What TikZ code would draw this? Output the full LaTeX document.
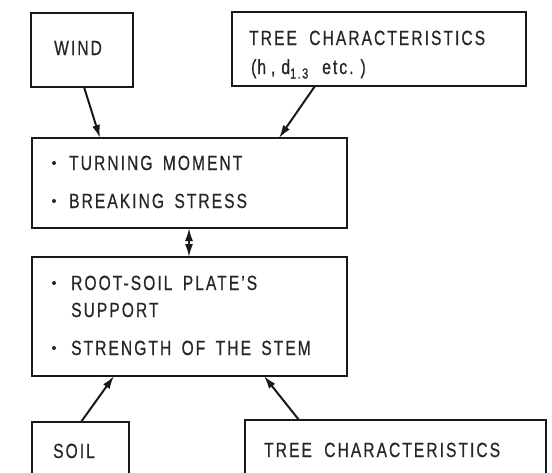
\documentclass[tikz,border=0pt]{standalone}
\usepackage{fontspec}
\setmainfont{Liberation Sans}[FakeStretch=0.76, LetterSpace=10, FakeBold=0.6]
\usetikzlibrary{arrows.meta}
\tikzset{
  box/.style={draw=black!90, line width=2.3pt, anchor=north west, inner sep=0pt, outer sep=0pt},
  txt/.style={anchor=base west, inner sep=0pt, text=black!85, font=\fontsize{20.5}{20.5}\selectfont},
  arr/.style={line width=2pt, draw=black!90, -{Latex[length=13pt,width=8pt]}},
  darr/.style={line width=2pt, draw=black!90, {Latex[length=13pt,width=8pt]}-{Latex[length=13pt,width=8pt]}},
  dot/.style={circle, fill=black!85, inner sep=0pt, minimum size=4pt}
}
\begin{document}
\begin{tikzpicture}[x=1pt,y=-1pt]
\useasboundingbox (0,0) rectangle (552,472);
\clip (0,0) rectangle (552,472);
\fill[white] (0,0) rectangle (552,472);
% boxes
\node[box, minimum width=102pt, minimum height=74pt] (wind) at (31,13) {};
\node[box, minimum width=294pt, minimum height=74pt] (treetop) at (232,12) {};
\node[box, minimum width=315pt, minimum height=90pt] (load) at (32,138) {};
\node[box, minimum width=315pt, minimum height=119pt] (resist) at (32,257) {};
\node[box, minimum width=97pt, minimum height=80pt] (soil) at (32,422) {};
\node[box, minimum width=301pt, minimum height=80pt] (treebot) at (245,420) {};
% texts
\node[txt] (twind) at (54,55) {WIND};
\node[txt] (ttree1) at (249,45) {TREE\hspace{6pt} CHARACTERISTICS};
\node[txt] (ttree2) at (251,74) {(\hspace{1pt}h\hspace{5pt},\hspace{6pt}d\raisebox{-4.5pt}{\fontsize{14.5}{14.5}\selectfont 1.3}\hspace{14pt}etc.\hspace{7pt})};
\node[dot] (b1) at (54,163) {};
\node[txt] (tturn) at (69,170) {TURNING\hspace{4pt} MOMENT};
\node[dot] (b2) at (54,201) {};
\node[txt] (tbreak) at (69,208) {BREAKING\hspace{4pt} STRESS};
\node[dot] (b3) at (54,283) {};
\node[txt] (troot) at (71,290) {ROOT-SOIL\hspace{4pt} PLATE'S};
\node[txt] (tsupp) at (71,317) {SUPPORT};
\node[dot] (b4) at (54,348) {};
\node[txt] (tstem) at (71,355) {STRENGTH\hspace{4pt} OF\hspace{4pt} THE\hspace{4pt} STEM};
\node[txt] (tsoil) at (53,458) {SOIL};
\node[txt] (ttree3) at (264,457) {TREE\hspace{6pt} CHARACTERISTICS};
% connectors
\draw[arr] ([xshift=53pt]wind.south west) -- ([xshift=68pt]load.north west);
\draw[arr] ([xshift=83pt]treetop.south west) -- ([xshift=247pt]load.north west);
\draw[darr] ([xshift=157pt]load.south west) -- ([xshift=157pt]resist.north west);
\draw[arr] ([xshift=49pt]soil.north west) -- ([xshift=82pt]resist.south west);
\draw[arr] ([xshift=54pt]treebot.north west) -- ([xshift=232pt]resist.south west);
\end{tikzpicture}
\end{document}
